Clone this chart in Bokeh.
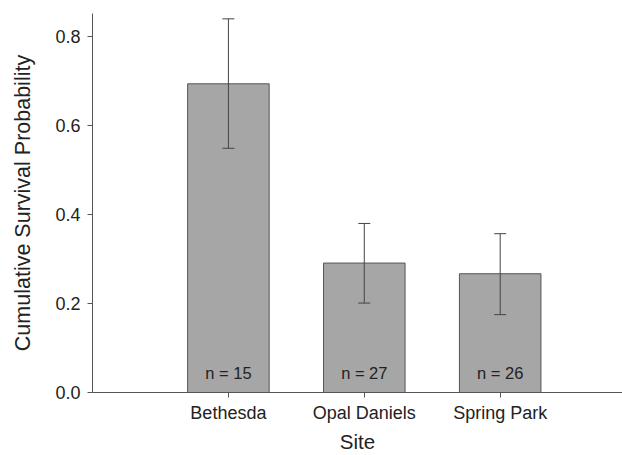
from bokeh.plotting import figure
from bokeh.models import ColumnDataSource, Whisker, TeeHead, FixedTicker, Range1d
from bokeh.core.properties import value
from bokeh.embed import file_html
from bokeh.resources import INLINE

sites = ["Bethesda", "Opal Daniels", "Spring Park"]
survival = [0.694, 0.291, 0.267]
upper = [0.840, 0.380, 0.357]
lower = [0.549, 0.201, 0.175]
n_labels = ["n = 15", "n = 27", "n = 26"]
y_ticks = [0.0, 0.2, 0.4, 0.6, 0.8]

xpos = list(range(len(sites)))
src = ColumnDataSource(dict(x=xpos, top=survival, upper=upper, lower=lower,
                            n=n_labels, zero=[0] * len(sites)))

FONT = "Liberation Sans"
TXT = "#222222"

p = figure(width=622, height=455, output_backend="svg", toolbar_location=None,
           x_range=Range1d(-1, 2.9), y_range=Range1d(0, 0.852),
           min_border_left=92, min_border_right=0, min_border_top=13,
           min_border_bottom=63)
p.outline_line_color = None
p.grid.visible = False
p.background_fill_color = "white"

p.vbar(x="x", top="top", bottom=0, width=0.6, source=src,
       fill_color="#a6a6a6", line_color="#555555", line_width=1)

w = Whisker(base="x", upper="upper", lower="lower", source=src,
            line_color="#444444", line_width=1, level="overlay",
            upper_head=TeeHead(size=12, line_color="#444444", line_width=1),
            lower_head=TeeHead(size=12, line_color="#444444", line_width=1))
p.add_layout(w)

p.text(x="x", y="zero", text="n", source=src, y_offset=-20,
       text_align="center", text_baseline="middle",
       text_font=value(FONT), text_font_size="16.5px", text_color=TXT)

# axes
p.xaxis.ticker = FixedTicker(ticks=xpos)
p.xaxis.major_label_overrides = {i: s for i, s in enumerate(sites)}
p.yaxis.ticker = FixedTicker(ticks=y_ticks)
p.yaxis.major_label_overrides = {t: f"{t:.1f}" for t in y_ticks}
p.xaxis.axis_label = "Site"
p.yaxis.axis_label = "Cumulative Survival Probability"

for ax in (p.xaxis[0], p.yaxis[0]):
    ax.axis_line_color = "#555555"
    ax.major_tick_line_color = "#555555"
    ax.minor_tick_line_color = None
    ax.major_tick_in = 0
    ax.major_tick_out = 5
    ax.major_label_text_font = FONT
    ax.major_label_text_font_size = "18px"
    ax.major_label_text_color = TXT
    ax.axis_label_text_font = FONT
    ax.axis_label_text_font_size = "21.5px"
    ax.axis_label_text_font_style = "normal"
    ax.axis_label_text_color = TXT

p.xaxis.axis_label_text_font_size = "20.5px"
p.yaxis.major_label_standoff = 7
p.yaxis.axis_label_standoff = 17
p.xaxis.major_label_standoff = 5
p.xaxis.axis_label_standoff = 4

open("out.html", "w").write(file_html(p, INLINE))
